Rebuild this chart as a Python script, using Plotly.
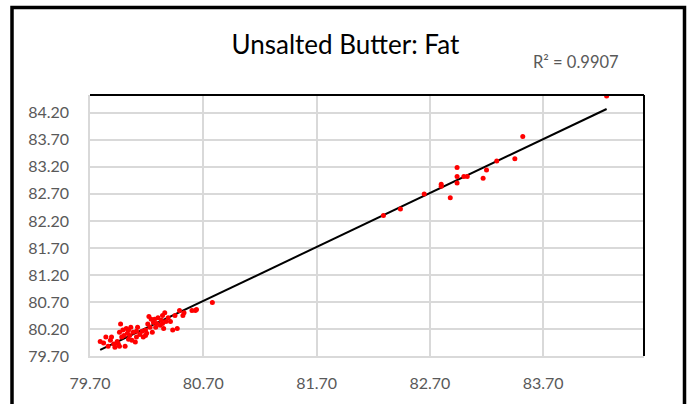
import numpy as np
import plotly.graph_objects as go

x_vals = [79.79, 79.82, 79.84, 79.86, 79.88, 79.89, 79.91, 79.92, 79.94, 79.95,
          79.96, 79.96, 79.97, 79.98, 79.99, 80.00, 80.01, 80.02, 80.03, 80.04,
          80.04, 80.05, 80.06, 80.07, 80.08, 80.10, 80.11, 80.11, 80.12, 80.14,
          80.16, 80.17, 80.19, 80.19, 80.20, 80.21, 80.22, 80.23, 80.24, 80.25,
          80.26, 80.27, 80.28, 80.29, 80.30, 80.32, 80.33, 80.34, 80.34, 80.35,
          80.36, 80.37, 80.39, 80.41, 80.43, 80.45, 80.47, 80.49, 80.52, 80.53,
          80.60, 80.63, 80.64, 80.78,
          82.29, 82.44, 82.65, 82.80, 82.80, 82.88, 82.94, 82.94, 82.94, 83.00,
          83.03, 83.17, 83.20, 83.29, 83.45, 83.52, 84.26]
y_vals = [79.97, 79.94, 80.05, 79.88, 79.99, 80.05, 79.92, 79.86, 79.97, 79.92,
          79.88, 80.14, 80.29, 80.05, 80.18, 80.08, 79.88, 80.21, 80.12, 80.01,
          80.18, 80.08, 80.23, 79.99, 80.14, 79.96, 80.16, 80.05, 80.23, 80.10,
          80.16, 80.05, 80.08, 80.18, 80.12, 80.29, 80.43, 80.23, 80.38, 80.14,
          80.32, 80.38, 80.23, 80.30, 80.41, 80.27, 80.36, 80.45, 80.30, 80.21,
          80.50, 80.34, 80.41, 80.34, 80.18, 80.45, 80.21, 80.54, 80.45, 80.50,
          80.54, 80.54, 80.56, 80.69,
          82.30, 82.42, 82.70, 82.88, 82.84, 82.63, 83.19, 83.02, 82.90, 83.02,
          83.02, 82.99, 83.14, 83.31, 83.35, 83.76, 84.51]

x_ticks = [79.70, 80.70, 81.70, 82.70, 83.70]
y_ticks = [79.70, 80.20, 80.70, 81.20, 81.70, 82.20, 82.70, 83.20, 83.70, 84.20]
title_text = "Unsalted Butter: Fat"
r2_text = "R² = 0.9907"

xa = np.array(x_vals)
ya = np.array(y_vals)
slope, intercept = np.polyfit(xa, ya, 1)
line_x = np.array([xa.min(), xa.max()])
line_y = slope * line_x + intercept

fig = go.Figure()
fig.add_trace(go.Scatter(x=line_x, y=line_y, mode="lines",
                         line=dict(color="black", width=2), hoverinfo="skip"))
fig.add_trace(go.Scatter(x=x_vals, y=y_vals, mode="markers",
                         marker=dict(color="#ff0000", size=5)))

L, R, T, B = 90, 51, 95, 45
W, H = 695, 404
pw, ph = W - L - R, H - T - B

def px(xp):
    return (xp - L) / pw

def py(yp):
    return (H - B - yp) / ph

shapes = [
    # outer chart border
    dict(type="rect", xref="paper", yref="paper",
         x0=px(12), x1=px(684.5), y0=py(430), y1=py(6.5),
         line=dict(color="black", width=3.5), fillcolor="rgba(0,0,0,0)", layer="above"),
    # top and right edges of plot area
    dict(type="line", xref="paper", yref="paper", x0=0, x1=1, y0=1, y1=1,
         line=dict(color="black", width=2)),
    dict(type="line", xref="paper", yref="paper", x0=1, x1=1, y0=0, y1=1,
         line=dict(color="black", width=2)),
]

fig.update_layout(
    width=W, height=H,
    margin=dict(l=L, r=R, t=T, b=B),
    paper_bgcolor="white", plot_bgcolor="white",
    showlegend=False,
    font=dict(family="Lato, 'Open Sans', sans-serif", color="#595959"),
    title=dict(text=title_text, x=0.497, xref="container", xanchor="center",
               y=1 - 45 / H, yref="container", yanchor="middle",
               font=dict(size=26, color="black", family="Lato, sans-serif")),
    shapes=shapes,
    annotations=[dict(text=r2_text, xref="paper", yref="paper",
                      x=px(576), y=py(62), xanchor="center", yanchor="middle",
                      showarrow=False, font=dict(size=16.5, color="#595959"))],
)
fig.update_xaxes(range=[79.70, 84.59], tickvals=x_ticks, tickformat=".2f",
                 showgrid=True, gridcolor="#d9d9d9", gridwidth=1.5,
                 showline=True, linecolor="#d9d9d9", linewidth=1.5,
                 zeroline=False, ticks="", tickfont=dict(size=16, color="#595959"),
                 ticklabelstandoff=12)
fig.update_yaxes(range=[79.70, 84.53], tickvals=y_ticks, tickformat=".2f",
                 showgrid=True, gridcolor="#d9d9d9", gridwidth=1.5,
                 showline=True, linecolor="#d9d9d9", linewidth=1.5,
                 zeroline=False, ticks="", tickfont=dict(size=16, color="#595959"),
                 ticklabelstandoff=16)

fig.write_html("out.html", config={"displayModeBar": False},
               post_script="document.body.style.margin='0';document.body.style.padding='0';")
